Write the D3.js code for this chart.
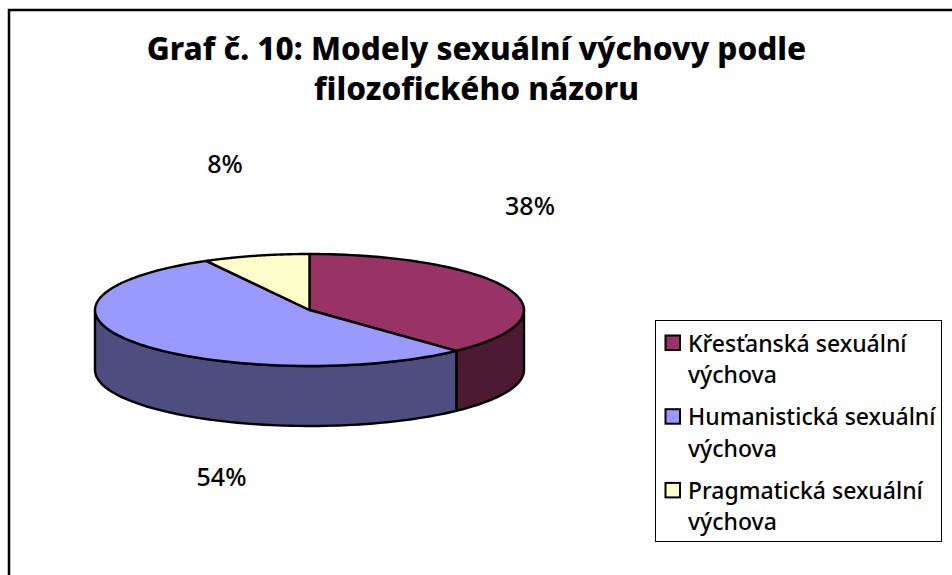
<!DOCTYPE html>
<html><head><meta charset="utf-8">
<script src="https://cdn.jsdelivr.net/npm/d3@7"></script>
<style>html,body{margin:0;padding:0;background:#fff}svg{display:block}text{font-family:"Noto Sans","DejaVu Sans",sans-serif;fill:#000}</style>
</head><body><svg id="c" width="952" height="575"></svg>
<script>
const titleLines = ["Graf č. 10: Modely sexuální výchovy podle", "filozofického názoru"];
const categories = ["Křesťanská sexuální výchova", "Humanistická sexuální výchova", "Pragmatická sexuální výchova"];
const values = [38, 54, 8];
const topColors = ["#993366", "#9999ff", "#ffffcc"];
const sideColors = ["#4d1a33", "#4d4d80", "#808066"];
const legendLines = [["Křesťanská sexuální", "výchova"], ["Humanistická sexuální", "výchova"], ["Pragmatická sexuální", "výchova"]];
const labelText = ["38%", "54%", "8%"];

const svg = d3.select("#c");
svg.append("rect").attr("x", 9).attr("y", 10).attr("width", 960).attr("height", 600)
  .attr("fill", "#fff").attr("stroke", "#000").attr("stroke-width", 2.5);

svg.selectAll("text.title").data(titleLines).join("text").attr("class", "title")
  .attr("x", 476.5).attr("y", (d, i) => 60 + i * 40).attr("text-anchor", "middle")
  .attr("font-size", 31.5).attr("font-weight", 800).text(d => d);

const cx = 309.5, cy = 310, rx = 214.5, ry = 56, depth = 60;
const px = d3.scaleLinear().domain([-1, 1]).range([cx - rx, cx + rx]);
const py = d3.scaleLinear().domain([-1, 1]).range([cy - ry, cy + ry]);
const pie = d3.pie().sort(null).value(d => d);
const arcs = pie(values);
const line = d3.line();
const pt = (a, dz) => [px(Math.sin(a)), py(-Math.cos(a)) + dz];
const steps = (a0, a1) => d3.range(0, 73).map(i => a0 + (a1 - a0) * i / 72);

arcs.forEach((d, i) => {
  const a0 = Math.max(d.startAngle, Math.PI / 2), a1 = Math.min(d.endAngle, Math.PI * 1.5);
  if (a1 <= a0) return;
  const s = steps(a0, a1);
  const pts = s.map(a => pt(a, 0)).concat(s.slice().reverse().map(a => pt(a, depth)));
  svg.append("path").attr("d", line(pts) + "Z").attr("fill", sideColors[i])
    .attr("stroke", "#000").attr("stroke-width", 2.4).attr("stroke-linejoin", "round");
});
arcs.forEach((d, i) => {
  const pts = [[px(0), py(0)]].concat(steps(d.startAngle, d.endAngle).map(a => pt(a, 0)));
  svg.append("path").attr("d", line(pts) + "Z").attr("fill", topColors[i])
    .attr("stroke", "#000").attr("stroke-width", 2.4).attr("stroke-linejoin", "round");
});

const labelPos = [[530, 215], [221.5, 486], [225, 173]];
svg.selectAll("text.lab").data(labelText).join("text").attr("class", "lab")
  .attr("x", (d, i) => labelPos[i][0]).attr("y", (d, i) => labelPos[i][1])
  .attr("text-anchor", "middle").attr("font-size", 25).attr("font-weight", 500).text(d => d);

svg.append("rect").attr("x", 655.5).attr("y", 320.5).attr("width", 286).attr("height", 221)
  .attr("fill", "#fff").attr("stroke", "#000").attr("stroke-width", 1);
legendLines.forEach((ls, i) => {
  const y0 = 335.5 + i * 73.7;
  svg.append("rect").attr("x", 665.5).attr("y", y0).attr("width", 14.5).attr("height", 14.5)
    .attr("fill", topColors[i]).attr("stroke", "#000").attr("stroke-width", 2);
  ls.forEach((t, j) => svg.append("text").attr("x", 688).attr("y", y0 + 16 + j * 31.5)
    .attr("font-size", 23).attr("font-weight", 500).text(t));
});
</script></body></html>
